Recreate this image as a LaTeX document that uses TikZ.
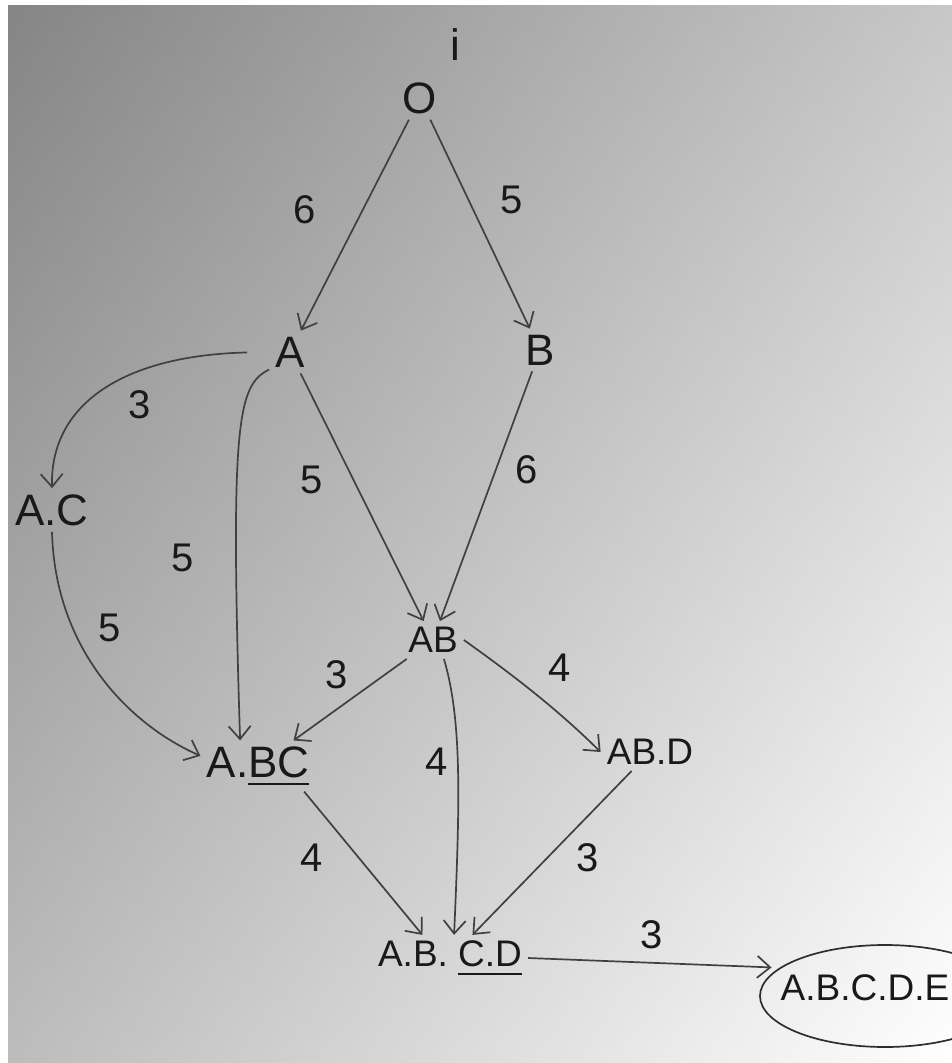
\documentclass[tikz,border=0pt]{standalone}
\usepackage{fontspec}
\setmainfont{Liberation Sans}
\usetikzlibrary{arrows.meta,shapes.geometric}
\newcommand\myul[1]{\setbox0\hbox{#1}\rlap{\raisebox{-8pt}{\rule{\wd0}{2.4pt}}}\box0}
\begin{document}
\begin{tikzpicture}[x=1pt,y=-1pt,
  nd/.style={font=\fontsize{44}{48}\selectfont, text=black!90, inner sep=6pt},
  ndsmall/.style={nd, font=\fontsize{37}{42}\selectfont},
  lbl/.style={font=\fontsize{40}{44}\selectfont, text=black!90, inner sep=0pt},
  edge/.style={draw=black!75, line width=1.7pt, -{Straight Barb[length=13pt,width=22pt]}}]
\useasboundingbox (0,0) rectangle (952,1063);
\clip (0,0) rectangle (952,1063);
\fill[white] (0,0) rectangle (952,1063);
\shade[left color=black!40, middle color=black!17, right color=white] (8,5) rectangle (952,1063);
\shade[top color=black!62, middle color=black!18, bottom color=white, opacity=0.35] (8,5) rectangle (952,1063);

% nodes
\node[nd] (i) at (455,45) {i};
\node[nd] (O) at (420,98) {O};
\node[nd] (A) at (290,352) {A};
\node[nd] (B) at (540,350) {B};
\node[nd] (AC) at (52,510) {A.C};
\node[ndsmall] (AB) at (433,640) {AB};
\node[nd] (ABC) at (258,766) {A.\myul{BC}};
\node[ndsmall] (ABD) at (650,752) {AB.D};
\node[ndsmall] (ABCD) at (450,958) {A.B. \myul{C.D}};
\node[draw=black!82, line width=1.7pt, ellipse, minimum width=250pt, minimum height=102pt] (E) at (885,996) {};
\node[ndsmall] (ABCDE) at (865,988) {A.B.C.D.E};

% edges
\draw[edge] (O) -- (A);
\draw[edge] (O) -- (B);
\draw[edge, shorten <=22pt] (A.west) .. controls (130,355) and (50,400) .. (AC.north);
\draw[edge] (A.220) .. controls (238,385) and (230,420) .. (ABC.125);
\draw[edge] (A) -- (AB);
\draw[edge] (B) -- (AB);
\draw[edge] (AC.south) .. controls (55,650) and (130,725) .. (ABC.170);
\draw[edge] (AB) -- (ABC);
\draw[edge] (AB.-60) .. controls (462,720) and (460,800) .. (ABCD.80);
\draw[edge] (AB.east) .. controls (520,680) and (560,712) .. (ABD.west);
\draw[edge] (ABC.-29) -- (ABCD.140);
\draw[edge] (ABD) -- (ABCD);
\draw[edge, shorten >=8pt] (ABCD.east) -- (E.165);

% labels
\node[lbl] (l1) at (305,210) {6};
\node[lbl] (l2) at (512,200) {5};
\node[lbl] (l3) at (140,405) {3};
\node[lbl] (l4) at (312,480) {5};
\node[lbl] (l5) at (527,470) {6};
\node[lbl] (l6) at (183,558) {5};
\node[lbl] (l7) at (110,628) {5};
\node[lbl] (l8) at (337,675) {3};
\node[lbl] (l9) at (560,668) {4};
\node[lbl] (l10) at (437,762) {4};
\node[lbl] (l11) at (312,858) {4};
\node[lbl] (l12) at (588,858) {3};
\node[lbl] (l13) at (652,935) {3};
\end{tikzpicture}
\end{document}
